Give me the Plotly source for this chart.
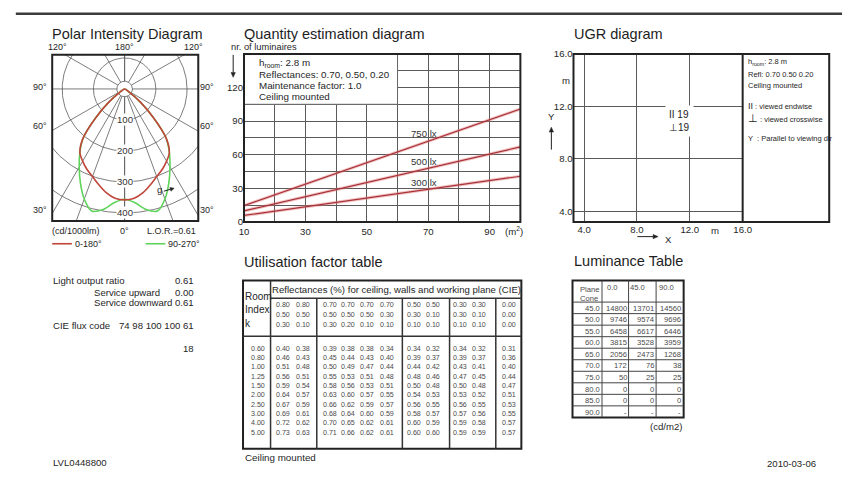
import numpy as np
import plotly.graph_objects as go

W, H = 851, 482
FONT = "Liberation Sans, Arial, Helvetica, sans-serif"
TXT = "#262626"
NUM = "#4a4a4a"

# ---------------- data ----------------
# Polar intensity diagram (cd/1000lm) vs gamma angle
gamma_deg = [0, 5, 10, 15, 20, 25, 30, 35, 40, 45, 50, 55, 60, 90, 180]
c0_180_cd = [358, 354, 340, 320, 301, 286, 269, 250, 207, 130, 66, 18, 0, 0, 0]
c90_270_cd = [356, 368, 395, 408, 378, 335, 291, 250, 207, 130, 66, 18, 0, 0, 0]
ring_cd = [100, 200, 300, 400]
hub_cd = 25
grid_gamma = [0, 20, 30, 60, 90, 120, 150, 180]
lor = "0.61"

# Quantity estimation diagram
area_m2 = [10, 100]
lux_labels = ["750 lx", "500 lx", "300 lx"]
luminaires_750 = [14.6, 100.8]
luminaires_500 = [9.9, 67.0]
luminaires_300 = [5.8, 40.8]
q_xticks = [10, 30, 50, 70, 90]
q_yticks = [0, 30, 60, 90, 120]

# UGR diagram
ugr_ticks = [4.0, 8.0, 12.0, 16.0]
ugr_ticklabels = ["4.0", "8.0", "12.0", "16.0"]
ugr_endwise = 19
ugr_crosswise = 19
ugr_room_x = 11.2
ugr_room_y = 10.9

# Utilisation factor table
refl_ceiling = ["0.80", "0.80", "0.70", "0.70", "0.70", "0.70", "0.50", "0.50", "0.30", "0.30", "0.00"]
refl_walls = ["0.50", "0.50", "0.50", "0.50", "0.50", "0.30", "0.30", "0.10", "0.30", "0.10", "0.00"]
refl_plane = ["0.30", "0.10", "0.30", "0.20", "0.10", "0.10", "0.10", "0.10", "0.10", "0.10", "0.00"]
room_index = ["0.60", "0.80", "1.00", "1.25", "1.50", "2.00", "2.50", "3.00", "4.00", "5.00"]
uf_rows = [
    [0.40, 0.38, 0.39, 0.38, 0.38, 0.34, 0.34, 0.32, 0.34, 0.32, 0.31],
    [0.46, 0.43, 0.45, 0.44, 0.43, 0.40, 0.39, 0.37, 0.39, 0.37, 0.36],
    [0.51, 0.48, 0.50, 0.49, 0.47, 0.44, 0.44, 0.42, 0.43, 0.41, 0.40],
    [0.56, 0.51, 0.55, 0.53, 0.51, 0.48, 0.48, 0.46, 0.47, 0.45, 0.44],
    [0.59, 0.54, 0.58, 0.56, 0.53, 0.51, 0.50, 0.48, 0.50, 0.48, 0.47],
    [0.64, 0.57, 0.63, 0.60, 0.57, 0.55, 0.54, 0.53, 0.53, 0.52, 0.51],
    [0.67, 0.59, 0.66, 0.62, 0.59, 0.57, 0.56, 0.55, 0.56, 0.55, 0.53],
    [0.69, 0.61, 0.68, 0.64, 0.60, 0.59, 0.58, 0.57, 0.57, 0.56, 0.55],
    [0.72, 0.62, 0.70, 0.65, 0.62, 0.61, 0.60, 0.59, 0.59, 0.58, 0.57],
    [0.73, 0.63, 0.71, 0.66, 0.62, 0.61, 0.60, 0.60, 0.59, 0.59, 0.57],
]

# Luminance table (cd/m2)
lum_planes = ["0.0", "45.0", "90.0"]
lum_cones = ["45.0", "50.0", "55.0", "60.0", "65.0", "70.0", "75.0", "80.0", "85.0", "90.0"]
lum_c0 = [14800, 9746, 6458, 3815, 2056, 172, 50, 0, 0, None]
lum_c45 = [13701, 9574, 6617, 3528, 2473, 76, 25, 0, 0, None]
lum_c90 = [14560, 9696, 6446, 3959, 1268, 38, 25, 0, 0, None]

# Light output info
info_lor = "0.61"
info_up = "0.00"
info_down = "0.61"
info_cie = "74 98 100 100 61"
info_extra = "18"
doc_id = "LVL0448800"
doc_date = "2010-03-06"

# ---------------- helpers ----------------
ann, shp = [], []


def P(x):
    return x / W


def Q(y):
    return 1 - y / H


def txt(x, y, s, size=9.6, anchor="left", color=TXT, **kw):
    d = dict(x=P(x), y=Q(y), xref="paper", yref="paper", text=s, showarrow=False,
             xanchor=anchor, yanchor="middle", borderpad=0,
             font=dict(family=FONT, size=size, color=color))
    d.update(kw)
    ann.append(d)


def line(x0, y0, x1, y1, w=1.0, color="#444"):
    shp.append(dict(type="line", xref="paper", yref="paper", x0=P(x0), y0=Q(y0),
                    x1=P(x1), y1=Q(y1), line=dict(width=w, color=color)))


def rect(x0, y0, x1, y1, w=2.0, color="#222"):
    shp.append(dict(type="rect", xref="paper", yref="paper", x0=P(x0), y0=Q(y0),
                    x1=P(x1), y1=Q(y1), line=dict(width=w, color=color)))


def arrow(x0, y0, x1, y1, head=5.0, half=2.2, color="#222"):
    dx, dy = x1 - x0, y1 - y0
    L = (dx * dx + dy * dy) ** 0.5
    ux, uy = dx / L, dy / L
    bx, by = x1 - ux * head, y1 - uy * head
    line(x0, y0, bx, by, 1, color)
    pts = [(x1, y1), (bx - uy * half, by + ux * half), (bx + uy * half, by - ux * half)]
    path = "M " + " L ".join(f"{P(a):.5f},{Q(b):.5f}" for a, b in pts) + " Z"
    shp.append(dict(type="path", xref="paper", yref="paper", path=path,
                    fillcolor=color, line=dict(width=0.5, color=color)))


fig = go.Figure()

# ---------------- polar intensity (cartesian projection) ----------------
def mirrored(g, I):
    g = np.asarray(g, float)
    I = np.asarray(I, float)
    ang = np.concatenate([-g[::-1], g[1:]])
    r = np.concatenate([I[::-1], I[1:]])
    x = r * np.sin(np.radians(ang))
    y = -r * np.cos(np.radians(ang))
    keep = [0]
    for i in range(1, len(x)):
        if abs(x[i] - x[keep[-1]]) > 1e-9 or abs(y[i] - y[keep[-1]]) > 1e-9:
            keep.append(i)
    return x[keep], y[keep]


gx, gy = [], []
for g in grid_gamma:
    for s in (1, -1):
        a = np.radians(s * g)
        gx += [hub_cd * np.sin(a), 900 * np.sin(a), None]
        gy += [-hub_cd * np.cos(a), -900 * np.cos(a), None]
fig.add_trace(go.Scatter(x=gx, y=gy, xaxis="x", yaxis="y", mode="lines",
                         line=dict(color="#5a5a5a", width=0.8), hoverinfo="skip"))
th = np.linspace(0, 2 * np.pi, 241)
cx, cy = [], []
for r in [hub_cd] + ring_cd:
    cx += list(r * np.cos(th)) + [None]
    cy += list(r * np.sin(th)) + [None]
fig.add_trace(go.Scatter(x=cx, y=cy, xaxis="x", yaxis="y", mode="lines",
                         line=dict(color="#5a5a5a", width=0.8), hoverinfo="skip"))

gxg, gyg = mirrored(gamma_deg, c90_270_cd)
fig.add_trace(go.Scatter(x=gxg, y=gyg, xaxis="x", yaxis="y", mode="lines",
                         line=dict(color="#5fd35a", width=1.6, shape="spline", smoothing=0.8),
                         name="90-270°"))
rx, ry = mirrored(gamma_deg, c0_180_cd)
fig.add_trace(go.Scatter(x=rx, y=ry, xaxis="x", yaxis="y", mode="lines",
                         line=dict(color="#bf4539", width=1.6, shape="spline", smoothing=0.8),
                         name="0-180°"))

for r in ring_cd:
    ann.append(dict(x=0, y=-r, xref="x", yref="y", text=str(r), showarrow=False,
                    bgcolor="white", borderpad=0,
                    font=dict(family=FONT, size=9.6, color="#333")))

shp.append(dict(type="rect", xref="x domain", yref="y domain", x0=0, x1=1, y0=0, y1=1,
                line=dict(width=2, color="#222")))

# ---------------- quantity estimation ----------------
fig.add_trace(go.Scatter(x=[10, 60, 60, 10, 10], y=[105, 105, 150, 150, 105],
                         xaxis="x2", yaxis="y2", mode="lines", fill="toself",
                         fillcolor="white", line=dict(color="#666", width=1), hoverinfo="skip"))
for vals in (luminaires_750, luminaires_500, luminaires_300):
    fig.add_trace(go.Scatter(x=area_m2, y=vals, xaxis="x2", yaxis="y2", mode="lines",
                             line=dict(color="rgba(225,120,120,0.45)", width=3.2), hoverinfo="skip"))
    fig.add_trace(go.Scatter(x=area_m2, y=vals, xaxis="x2", yaxis="y2", mode="lines",
                             line=dict(color="#a8323a", width=1.2)))
lab_x = 68.6
for lab, vals, ys in zip(lux_labels, (luminaires_750, luminaires_500, luminaires_300), (9, 8, 7)):
    yv = vals[0] + (vals[1] - vals[0]) * (lab_x - area_m2[0]) / (area_m2[1] - area_m2[0])
    ann.append(dict(x=lab_x, y=yv, xref="x2", yref="y2", text=lab, showarrow=False,
                    yshift=ys, font=dict(family=FONT, size=9.6, color="#333")))
shp.append(dict(type="rect", xref="x2 domain", yref="y2 domain", x0=0, x1=1, y0=0, y1=1,
                line=dict(width=2, color="#222")))

# ---------------- UGR ----------------
ann.append(dict(x=ugr_room_x, y=ugr_room_y, xref="x3", yref="y3", showarrow=False,
                text=f"II {ugr_endwise}<br>⊥{ugr_crosswise}", bgcolor="white", borderpad=3,
                align="left", font=dict(family=FONT, size=10, color="#222")))

tickfont = dict(family=FONT, size=9.6, color=TXT)
GRID = "#5a5a5a"
axis_common = dict(showgrid=True, gridcolor=GRID, gridwidth=1, zeroline=False,
                   showline=False, ticks="", tickfont=tickfont, fixedrange=True)

# ---------------- text / shapes ----------------
line(11, 8, 851, 8, w=2.5, color="#3c3c3c")

for x, y, s in [(47, 29, "Polar Intensity Diagram"), (242, 29, "Quantity estimation diagram"),
                (577, 29, "UGR diagram"), (242, 262, "Utilisation factor table"),
                (577, 261, "Luminance Table")]:
    txt(x, y, s, 14.5, color="#1e1e1e")

# polar labels
sup = "°"
txt(53, 41.5, "120" + sup, 9, "center")
txt(122, 41.5, "180" + sup, 9, "center")
txt(192, 41.5, "120" + sup, 9, "center")
for lab, y in [("90", 83), ("60", 123), ("30", 209)]:
    txt(36, y, lab + sup, 9, "center")
    txt(205, y, lab + sup, 9, "center")
txt(47, 230, "(cd/1000lm)", 9)
txt(122, 230, "0" + sup, 9, "center")
txt(195, 230, "L.O.R.=" + lor, 9, "right")
line(48, 243.3, 68, 243.3, w=1.6, color="#bf4539")
txt(70, 243.3, "0-180" + sup, 9)
line(143, 243.3, 163, 243.3, w=1.6, color="#5fd35a")
txt(165, 243.3, "90-270" + sup, 9)
txt(157, 188, "g", 9.6, "center")
arrow(161.5, 189.5, 172, 186.5, head=4, half=2)

# quantity labels
txt(229, 42, "nr. of luminaires", 9.3)
arrow(232, 50, 232, 73)
txt(518, 230, "(m<sup>2</sup>)", 9.6, "center")
txt(257, 58, "h<sub>room</sub>: 2.8 m", 9.8)
txt(257, 70, "Reflectances: 0.70, 0.50, 0.20", 9.8)
txt(257, 81.5, "Maintenance factor: 1.0", 9.8)
txt(257, 93, "Ceiling mounted", 9.8)

# UGR extras
rect(578, 49, 838, 221, w=2)
line(750, 49, 750, 221, w=2, color="#222")
txt(570, 76.5, "m", 9.6, "center")
txt(556, 113, "Y", 9.6, "center")
arrow(555.5, 147, 555.5, 124)
txt(722, 230, "m", 9.6, "center")
arrow(643, 236, 664, 236)
txt(675, 238.5, "X", 9.6, "center")
txt(754, 57.5, "h<sub>room</sub>: 2.8 m", 7.5)
txt(754, 70, "Refl: 0.70 0.50 0.20", 7.5)
txt(754, 81, "Ceiling mounted", 7.5)
txt(754, 102, "<span style='font-size:9px'>II</span> : viewed endwise", 7.5)
txt(754, 114.5, "<span style='font-size:11px'>⊥</span> : viewed crosswise", 7.5)
txt(754, 135.5, "Y  : Parallel to viewing dir", 7.5)

# utilisation table
rect(242, 281, 525, 453, w=2)
line(270, 281, 270, 453, 1.5, "#333")
line(270, 299, 525, 299, 1.5, "#333")
line(242, 338, 525, 338, 1.5, "#333")
for xs in [317, 404, 452, 499]:
    line(xs, 299, xs, 453, 1.5, "#333")
txt(270.5, 290, "Reflectances (%) for ceiling, walls and working plane (CIE)", 9.6)
txt(242.5, 297, "Room", 10)
txt(242.5, 311, "Index", 10)
txt(242.5, 325, "k", 10)
uf_col_x = [283, 303, 330, 349, 368, 388, 416, 435, 463, 482, 512]
for row_y, rowvals in zip([306, 316, 326], [refl_ceiling, refl_walls, refl_plane]):
    for cxp, v in zip(uf_col_x, rowvals):
        txt(cxp, row_y, v, 7.1, "center", NUM)
for i, (k, rowvals) in enumerate(zip(room_index, uf_rows)):
    ry_ = 350.7 + i * 9.55
    txt(257, ry_, k, 7.1, "center", NUM)
    for cxp, v in zip(uf_col_x, rowvals):
        txt(cxp, ry_, f"{v:.2f}", 7.1, "center", NUM)
txt(242.5, 462, "Ceiling mounted", 9.8)

# luminance table
rect(577, 281, 690, 421, w=2)
for xs in [607, 634, 662]:
    line(xs, 281, xs, 421, 1, "#444")
row_h = (421 - 303) / len(lum_cones)
for i in range(len(lum_cones)):
    line(577, 303 + i * row_h, 690, 303 + i * row_h, 1, "#444")
txt(594, 290.5, "Plane", 7.6, "center", NUM)
txt(594, 299.5, "Cone", 7.6, "center", NUM)
for xr, p in zip([624, 652, 681], lum_planes):
    txt(xr, 288, p, 7.6, "right", NUM)
for i, cone in enumerate(lum_cones):
    yc = 303 + (i + 0.5) * row_h + 0.5
    txt(605.5, yc, cone, 7.6, "right", NUM)
    for xr, col in zip([633, 660.5, 688.5], (lum_c0, lum_c45, lum_c90)):
        v = col[i]
        txt(xr, yc, "-" if v is None else str(v), 7.6, "right", NUM)
txt(690, 430, "(cd/m2)", 9.6, "right")

# info block
txt(47.5, 281, "Light output ratio", 9.6)
txt(193.5, 281, info_lor, 9.6, "right")
txt(89, 292.7, "Service upward", 9.6)
txt(193.5, 292.7, info_up, 9.6, "right")
txt(89, 303.5, "Service downward", 9.6)
txt(193.5, 303.5, info_down, 9.6, "right")
txt(47.5, 326.7, "CIE flux code", 9.6)
txt(193.5, 326.7, info_cie, 9.6, "right")
txt(193.5, 350, info_extra, 9.6, "right")
txt(47.5, 467.5, doc_id, 9.6)
txt(826, 468, doc_date, 9.6, "right")

fig.update_layout(
    width=W, height=H, margin=dict(l=0, r=0, t=0, b=0),
    paper_bgcolor="white", plot_bgcolor="white", showlegend=False,
    font=dict(family=FONT, color=TXT),
    xaxis=dict(domain=[P(48), P(196.5)], range=[-232, 236], visible=False, anchor="y", fixedrange=True),
    yaxis=dict(domain=[Q(220), Q(50)], range=[-426, 110], visible=False, anchor="x", fixedrange=True),
    xaxis2=dict(domain=[P(243), P(524)], range=[10, 100], anchor="y2", tickvals=q_xticks,
                ticklabelstandoff=2,
                minor=dict(dtick=10, tick0=0, showgrid=True, gridcolor=GRID, gridwidth=1),
                **axis_common),
    yaxis2=dict(domain=[Q(221), Q(49)], range=[0, 150], anchor="x2", tickvals=q_yticks,
                minor=dict(dtick=15, tick0=0, showgrid=True, gridcolor=GRID, gridwidth=1),
                **axis_common),
    xaxis3=dict(domain=[P(578), P(750)], range=[3.2, 16], anchor="y3",
                tickvals=ugr_ticks, ticktext=ugr_ticklabels, **axis_common),
    yaxis3=dict(domain=[Q(221), Q(49)], range=[3.2, 16], anchor="x3",
                tickvals=ugr_ticks, ticktext=ugr_ticklabels, **axis_common),
    annotations=ann, shapes=shp,
)

fig.write_html("out.html", include_plotlyjs=True, config={"displayModeBar": False},
               post_script="document.body.style.margin='0';document.body.style.overflow='hidden';")
